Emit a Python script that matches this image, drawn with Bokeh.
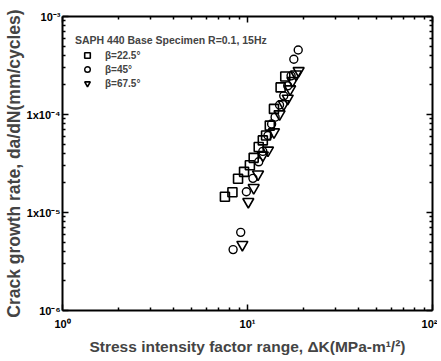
from bokeh.plotting import figure
from bokeh.models import LogAxis, FixedTicker, Legend, LegendItem
from bokeh.embed import file_html
from bokeh.resources import INLINE

# ---- data ----
k_225 = [7.55, 8.29, 8.89, 9.58, 10.3, 10.8, 11.5, 12.1, 12.6, 13.2, 13.9, 15.1, 16.0]
r_225 = [1.45e-5, 1.61e-5, 2.21e-5, 2.60e-5, 3.03e-5, 3.61e-5, 4.66e-5, 5.44e-5, 6.1e-5, 7.7e-5, 1.14e-4, 1.89e-4, 2.44e-4]

k_45 = [8.36, 9.19, 9.86, 10.7, 11.5, 12.1, 12.9, 13.5, 14.1, 14.9, 15.7, 16.5, 17.2, 17.8, 18.8]
r_45 = [4.18e-6, 6.27e-6, 1.63e-5, 2.23e-5, 3.29e-5, 4.2e-5, 6.1e-5, 8.0e-5, 9.4e-5, 1.25e-4, 1.55e-4, 1.96e-4, 2.48e-4, 3.66e-4, 4.55e-4]

k_675 = [9.38, 10.1, 10.8, 11.4, 12.1, 12.9, 13.9, 14.9, 15.7, 16.5, 17.0, 17.5, 18.3, 18.9]
r_675 = [4.7e-6, 1.29e-5, 1.79e-5, 2.46e-5, 3.83e-5, 4.31e-5, 6.62e-5, 1.01e-4, 1.28e-4, 1.46e-4, 1.82e-4, 2.21e-4, 2.58e-4, 2.79e-4]

series_labels = ["\u03b2=22.5\u00b0", "\u03b2=45\u00b0", "\u03b2=67.5\u00b0"]
legend_title = "SAPH 440 Base Specimen R=0.1, 15Hz"

x_ticks = [1, 10, 100]
x_tick_labels = ["10\u2070", "10\u00b9", "10\u00b2"]
y_ticks = [1e-6, 1e-5, 1e-4, 1e-3]
y_tick_labels = ["10\u207b\u2076", "1x10\u207b\u2075", "1x10\u207b\u2074", "10\u207b\u00b3"]

x_label = "Stress intensity factor range, \u0394K(MPa-m\u00b9/\u00b2)"
y_label = "Crack growth rate, da/dN(mm/cycles)"

FONT = "Liberation Sans"

x_minor = [m * d for d in [1, 10] for m in range(2, 10)]
y_minor = [m * d for d in [1e-6, 1e-5, 1e-4] for m in range(2, 10)]

FH = 294
p = figure(frame_width=370, frame_height=FH, x_axis_type="log", y_axis_type="log",
           x_range=(1, 100), y_range=(1e-6, 1e-3),
           output_backend="svg", toolbar_location=None,
           min_border_left=55, min_border_right=5, min_border_top=16, min_border_bottom=42)
p.outline_line_color = None
p.background_fill_color = "white"
p.border_fill_color = "white"
p.grid.visible = False


def style_axis(ax, ticks, minor, labels=None, show_labels=True):
    ax.ticker = FixedTicker(ticks=ticks, minor_ticks=minor)
    ax.axis_line_width = 2
    ax.axis_line_color = "black"
    ax.major_tick_in = 6
    ax.major_tick_out = 0
    ax.minor_tick_in = 3
    ax.minor_tick_out = 0
    ax.major_tick_line_width = 1.5
    ax.minor_tick_line_width = 1.5
    ax.major_label_text_font = FONT
    ax.major_label_text_font_style = "bold"
    ax.major_label_text_font_size = "11px"
    ax.major_label_text_color = "black"
    if labels is not None:
        ax.major_label_overrides = {t: l for t, l in zip(ticks, labels)}
    if not show_labels:
        ax.major_label_text_font_size = "0px"
        ax.major_label_text_alpha = 0


xb = p.xaxis[0]
style_axis(xb, x_ticks, x_minor, x_tick_labels)
xb.major_label_standoff = 7
xb.axis_label = x_label
xb.axis_label_text_font = FONT
xb.axis_label_text_font_style = "bold"
xb.axis_label_text_font_size = "15.5px"
xb.axis_label_standoff = 5

yl = p.yaxis[0]
style_axis(yl, y_ticks, y_minor, y_tick_labels)
yl.major_label_standoff = 2
yl.major_label_orientation = "horizontal"
yl.axis_label = y_label
yl.axis_label_text_font = FONT
yl.axis_label_text_font_style = "bold"
yl.axis_label_text_font_size = "17.5px"
yl.axis_label_standoff = 0

xt = LogAxis()
style_axis(xt, x_ticks, x_minor, show_labels=False)
xt.major_label_standoff = 0
p.add_layout(xt, "above")

yr = LogAxis()
style_axis(yr, y_ticks, y_minor, show_labels=False)
yr.major_label_standoff = 0
p.add_layout(yr, "right")

r1 = p.scatter(k_225, r_225, marker="square", size=9, fill_color=None,
               line_color="black", line_width=1.6)
r2 = p.scatter(k_45, r_45, marker="circle", size=8, fill_color=None,
               line_color="black", line_width=1.4)
r3 = p.scatter(k_675, r_675, marker="inverted_triangle", size=11, fill_color=None,
               line_color="black", line_width=1.6)

legend = Legend(items=[LegendItem(label=series_labels[0], renderers=[r1]),
                       LegendItem(label=series_labels[1], renderers=[r2]),
                       LegendItem(label=series_labels[2], renderers=[r3])],
                location=(13, FH - 8 - 66), title=legend_title)
legend.title_text_font = FONT
legend.title_text_font_style = "bold"
legend.title_text_font_size = "10.5px"
legend.title_standoff = 2
legend.label_text_font = FONT
legend.label_text_font_style = "bold"
legend.label_text_font_size = "10px"
legend.label_standoff = 6
legend.glyph_width = 24
legend.glyph_height = 14
legend.label_height = 14
legend.spacing = 0
legend.padding = 5
legend.margin = 0
legend.border_line_color = None
legend.background_fill_alpha = 0
p.add_layout(legend)

open("out.html", "w").write(file_html(p, INLINE))
